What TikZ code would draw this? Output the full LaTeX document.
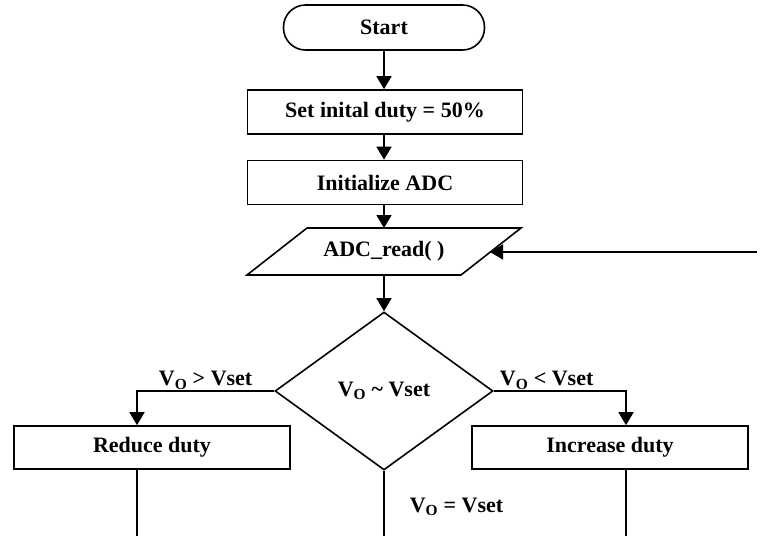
\documentclass[tikz,border=0pt]{standalone}
\usepackage{fontspec}
\setmainfont{Liberation Serif}
\usetikzlibrary{arrows.meta,shapes.geometric}
\begin{document}
\begin{tikzpicture}[x=1pt, y=-1pt, line width=1.6pt,
    txt/.style={font=\fontsize{22}{26}\selectfont\bfseries},
    box/.style={draw, rectangle, txt, inner sep=0pt, minimum height=44pt},
    term/.style={box, rounded corners=22pt, minimum width=201pt, minimum height=45pt},
    decision/.style={draw, diamond, txt, inner sep=0pt, minimum width=218pt, minimum height=158pt},
    flow/.style={-{Triangle[length=13pt,width=15pt]}},
    lbl/.style={txt, inner sep=1pt}]
\useasboundingbox (0,0) rectangle (761,536);
% blocks
\node[term] (start) at (384,27.5) {Start};
\node[box, minimum width=275pt] (duty) at (385,112) {Set inital duty = 50\%};
\node[box, minimum width=275pt] (adc) at (385,182.5) {Initialize ADC};
% input block (parallelogram)
\draw (247,275) coordinate (rdSW) -- (307,228) -- (521,228) -- (461,275) -- cycle;
\node[txt] (read) at (384,251.5) {ADC\_read( )};
\coordinate (rdN) at (384,228);
\coordinate (rdS) at (384,275);
\coordinate (rdE) at (490,252);
\node[decision] (cmp) at (384,391) {V\textsubscript{O} \textasciitilde{} Vset};
\node[box, minimum width=276pt, minimum height=43pt] (reduce) at (152,447.5) {Reduce duty};
\node[box, minimum width=276pt, minimum height=43pt] (increase) at (610,447.5) {Increase duty};
% loose ends
\coordinate (fb) at (757,252);
\coordinate (outL) at (137,536);
\coordinate (outM) at (384,536);
\coordinate (outR) at (626,536);
% connectors
\draw[flow] (start) -- (start |- duty.north);
\draw[flow] (start |- duty.south) -- (start |- adc.north);
\draw[flow] (start |- adc.south) -- (rdN);
\draw[flow] (rdS) -- (cmp);
\draw[flow] (fb) -- (rdE);
\draw[flow] (cmp.west) -| node[lbl, pos=0.25, above] {V\textsubscript{O} > Vset} ([xshift=-15pt]reduce.north);
\draw[flow] (cmp.east) -| node[lbl, pos=0.2, above] {V\textsubscript{O} < Vset} ([xshift=16pt]increase.north);
\draw ([xshift=-15pt]reduce.south) -- (outL);
\draw ([xshift=16pt]increase.south) -- (outR);
\draw (cmp.south) -- node[lbl, pos=0.55, right=24pt] {V\textsubscript{O} = Vset} (outM);
\end{tikzpicture}
\end{document}
